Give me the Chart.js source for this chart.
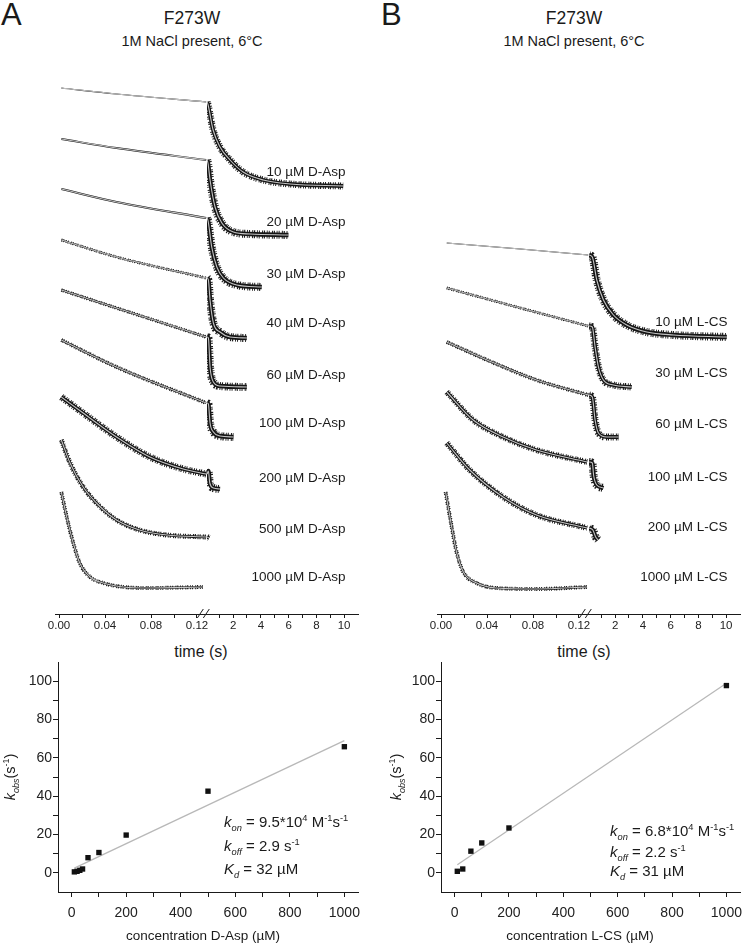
<!DOCTYPE html>
<html>
<head>
<meta charset="utf-8">
<script src="https://cdn.jsdelivr.net/npm/chart.js@4.4.1/dist/chart.umd.min.js"></script>
<style>
  html, body { margin: 0; padding: 0; background: #fff; }
  body { width: 745px; height: 947px; position: relative; overflow: hidden;
         font-family: "Liberation Sans", Arial, sans-serif; color: #1a1a1a; }
  .txt { position: absolute; line-height: 1; white-space: nowrap; }
  .ctr { width: 300px; text-align: center; }
  canvas { position: absolute; }
</style>
</head>
<body>
<div class="txt" style="left:1px;top:-1px;font-size:31px">A</div>
<div class="txt" style="left:381px;top:-1px;font-size:31px">B</div>
<div class="txt ctr" style="left:42px;top:10px;font-size:17.5px">F273W</div>
<div class="txt ctr" style="left:424px;top:10px;font-size:17.5px">F273W</div>
<div class="txt ctr" style="left:42px;top:34px;font-size:14.5px">1M NaCl present, 6°C</div>
<div class="txt ctr" style="left:424px;top:34px;font-size:14.5px">1M NaCl present, 6°C</div>
<div class="txt ctr" style="left:51px;top:644px;font-size:16px">time (s)</div>
<div class="txt ctr" style="left:434px;top:644px;font-size:16px">time (s)</div>

<canvas id="aspEarly" width="215" height="600" style="left:0;top:60px"></canvas>
<canvas id="aspLate" width="165" height="600" style="left:207px;top:60px"></canvas>
<canvas id="csEarly" width="215" height="600" style="left:382px;top:60px"></canvas>
<canvas id="csLate" width="156" height="600" style="left:589px;top:60px"></canvas>
<canvas id="aspKobs" width="372" height="307" style="left:0;top:640px"></canvas>
<canvas id="csKobs" width="373" height="307" style="left:372px;top:640px"></canvas>

<script>
// ---- data ----
// stopped-flow traces: [time (s), signal (a.u.)], stacked with offsets as in the figure
const aspConc = [10, 20, 30, 40, 60, 100, 200, 500, 1000];
const aspEarly = [   // 0 - 0.13 s part
  [[0.002, 526], [0.05, 520], [0.128, 512]],
  [[0.002, 475], [0.05, 466], [0.128, 454]],
  [[0.002, 425], [0.05, 412], [0.128, 396]],
  [[0.002, 374], [0.05, 357], [0.128, 336]],
  [[0.002, 324], [0.05, 306], [0.128, 277]],
  [[0.002, 274], [0.05, 247], [0.128, 211]],
  [[0.002, 217], [0.021, 201], [0.05, 177], [0.079, 157], [0.108, 145], [0.128, 140]],
  [[0.002, 174], [0.0096, 151], [0.021, 127], [0.036, 107], [0.05, 94], [0.07, 84], [0.094, 79], [0.128, 77]],
  [[0.002, 122], [0.0067, 97], [0.0124, 71], [0.018, 51], [0.027, 37], [0.0385, 31], [0.056, 27], [0.079, 26], [0.125, 27]]
];
const aspLate = [    // 0.13 - 10 s part
  [[0.13, 512], [0.2, 509], [0.56, 484], [1.06, 467], [1.78, 454], [2.72, 442], [4.16, 434], [6.11, 430], [9.93, 428]],
  [[0.13, 454], [0.2, 450], [0.34, 434], [0.7, 407], [1.19, 391], [2.02, 382], [3.23, 380], [5.99, 379]],
  [[0.13, 396], [0.2, 393], [0.46, 367], [0.83, 347], [1.3, 336], [2.27, 329], [4.07, 327]],
  [[0.13, 336], [0.22, 334], [0.34, 314], [0.58, 291], [1.06, 282], [1.78, 277], [2.99, 276]],
  [[0.13, 277], [0.22, 276], [0.34, 247], [0.58, 232], [1.06, 228], [2.99, 227]],
  [[0.13, 211], [0.22, 210], [0.34, 191], [0.58, 182], [1.06, 178], [2.02, 177]],
  [[0.13, 140], [0.22, 143], [0.32, 131], [0.58, 126], [1.06, 125]],
  [[0.13, 77], [0.27, 76]],
  []
];
const aspLabelLevel = [442, 392, 340, 291, 239, 191, 136, 85, 37];

const csConc = [10, 30, 60, 100, 200, 1000];
const csEarly = [
  [[0.005, 371], [0.069, 365], [0.128, 359]],
  [[0.005, 326], [0.069, 306], [0.128, 288]],
  [[0.005, 272], [0.04, 254], [0.083, 234], [0.128, 219]],
  [[0.005, 222], [0.028, 194], [0.054, 177], [0.083, 164], [0.127, 152]],
  [[0.005, 171], [0.025, 144], [0.054, 117], [0.083, 99], [0.127, 86]],
  [[0.004, 122], [0.0093, 87], [0.0137, 61], [0.0194, 42], [0.031, 31], [0.048, 26], [0.083, 25], [0.127, 27]]
];
const csLate = [
  [[0.13, 359], [0.36, 357], [0.68, 334], [1.16, 314], [1.88, 299], [2.84, 289], [4.28, 282], [6.2, 279], [10.05, 277]],
  [[0.13, 288], [0.36, 287], [0.56, 267], [0.8, 247], [1.16, 234], [1.88, 229], [3.2, 227]],
  [[0.13, 219], [0.36, 217], [0.56, 194], [0.8, 181], [1.4, 177], [2.24, 177]],
  [[0.13, 152], [0.36, 151], [0.46, 138], [0.68, 129], [1.16, 126]],
  [[0.13, 86], [0.4, 84], [0.6, 77], [0.78, 74]],
  []
];
const csLabelLevel = [292, 241, 190, 137, 87, 37];

// k_obs vs concentration
const aspKobsConc = [10, 20, 30, 40, 60, 100, 200, 500, 1000];
const aspKobs = [0.5, 0.8, 1.3, 2.0, 7.9, 10.6, 19.7, 42.6, 65.8];
const aspFitLine = [[10, 2.5], [1000, 69]];
const csKobsConc = [10, 30, 60, 100, 200, 1000];
const csKobs = [0.8, 2.0, 11.3, 15.6, 23.4, 97.7];
const csFitLine = [[10, 4.2], [1000, 98.9]];

const earlyTicks = [0, 0.02, 0.04, 0.06, 0.08, 0.1, 0.12];
const lateTicks = [1, 2, 3, 4, 5, 6, 7, 8, 9, 10];
const concTicks = [0, 100, 200, 300, 400, 500, 600, 700, 800, 900, 1000];
const kobsTicks = [0, 10, 20, 30, 40, 50, 60, 70, 80, 90, 100];

const aspConstants = [
  [['k', 'i'], ['on', 'isub'], [' = 9.5*10', ''], ['4', 'sup'], [' M', ''], ['-1', 'sup'], ['s', ''], ['-1', 'sup']],
  [['k', 'i'], ['off', 'isub'], [' = 2.9 s', ''], ['-1', 'sup']],
  [['K', 'i'], ['d', 'isub'], [' = 32 µM', '']]
];
const csConstants = [
  [['k', 'i'], ['on', 'isub'], [' = 6.8*10', ''], ['4', 'sup'], [' M', ''], ['-1', 'sup'], ['s', ''], ['-1', 'sup']],
  [['k', 'i'], ['off', 'isub'], [' = 2.2 s', ''], ['-1', 'sup']],
  [['K', 'i'], ['d', 'isub'], [' = 31 µM', '']]
];
const kobsTitle = [['k', 'i'], ['obs', 'isub'], ['(s', ''], ['-1', 'sup'], [')', '']];

// ---- drawing ----
const FONT = '"Liberation Sans", Arial, sans-serif';
const INK = '#1a1a1a';
Chart.defaults.font.family = FONT;
Chart.defaults.color = INK;

// noise band widths of the black data traces (early / late parts)
const aspBandEarly = [1.2, 1.8, 2.2, 3, 3.5, 4, 7, 5, 4];
const aspBandLate = [7, 8, 8, 8, 8, 8, 8, 6, 0];
const csBandEarly = [1.2, 3, 4, 6, 6, 4];
const csBandLate = [8, 7, 7, 8, 8, 0];

function richText(ctx, parts, x, y, size) {
  let cx = x;
  for (const [t, st] of parts) {
    const small = st.includes('sub') || st.includes('sup');
    const fs = small ? size * 0.62 : size;
    ctx.font = (st.startsWith('i') ? 'italic ' : '') + fs + 'px ' + FONT;
    const dy = st.includes('sub') ? size * 0.28 : st.includes('sup') ? -size * 0.42 : 0;
    ctx.fillText(t, cx, y + dy);
    cx += ctx.measureText(t).width;
  }
  return cx - x;
}

// each trace: grey fit on top, a solid black core and a hatched black fringe for the noise
function traceSets(tracks, bands) {
  const sets = [];
  tracks.forEach((tr, i) => {
    if (!tr.length) return;
    const pts = tr.map(([x, y]) => ({ x, y }));
    const base = { data: pts, pointRadius: 0, cubicInterpolationMode: 'monotone' };
    sets.push({ ...base, borderColor: '#c4c4c4', borderWidth: 1.1, order: 0 });
    if (bands[i] <= 2.5) {
      sets.push({ ...base, borderColor: '#151515', borderWidth: bands[i], order: 1 });
    } else {
      sets.push({ ...base, borderColor: '#151515', borderWidth: bands[i] * 0.55, order: 1 });
      sets.push({ ...base, borderColor: '#1c1c1c', borderWidth: bands[i],
                  borderDash: [1, 0.8, 1.2, 1.7, 0.9, 1.1, 1, 2.2], order: 2 });
    }
  });
  return sets;
}

function timeAxis(min, max, ticks, label) {
  return {
    type: 'linear', min, max,
    afterBuildTicks: s => { s.ticks = ticks.map(v => ({ value: v })); },
    afterFit: s => { s.height = 46; s.paddingLeft = 0; s.paddingRight = 0; },
    grid: { drawOnChartArea: false, tickLength: 4, color: INK },
    border: { color: INK, width: 1 },
    ticks: { padding: 1, autoSkip: false, maxRotation: 0, font: { size: 11.5 }, color: '#222', callback: label }
  };
}

const breakMarks = {
  id: 'breakMarks',
  afterDraw(chart) {
    const { ctx, chartArea } = chart;
    const x = chart.scales.x.getPixelForValue(0.1255);
    const y = chartArea.bottom;
    ctx.save();
    ctx.strokeStyle = INK;
    ctx.lineWidth = 1;
    ctx.beginPath();
    [-3, 3].forEach(dx => { ctx.moveTo(x + dx - 3, y + 4); ctx.lineTo(x + dx + 3, y - 5); });
    ctx.stroke();
    ctx.restore();
  }
};

function tracePanel(id, early, late, bandEarly, bandLate, conc, levels, drug, lateWidth) {
  const common = { responsive: false, animation: false, events: [],
                   plugins: { legend: { display: false }, tooltip: { enabled: false } } };
  new Chart(document.getElementById(id + 'Early'), {
    type: 'line',
    data: { datasets: traceSets(early, bandEarly) },
    options: { ...common,
      layout: { padding: { left: 55, right: 8, top: 20, bottom: 0 } },
      scales: {
        x: timeAxis(-0.0035, 0.1287, earlyTicks, v => (Math.round(v * 100) % 4 === 0 ? v.toFixed(2) : '')),
        y: { display: false, min: 0, max: 534 }
      } },
    plugins: [breakMarks]
  });
  new Chart(document.getElementById(id + 'Late'), {
    type: 'line',
    data: { datasets: traceSets(late, bandLate) },
    options: { ...common,
      layout: { padding: { left: 0, right: lateWidth - 151, top: 20, bottom: 0 } },
      scales: {
        x: timeAxis(0.12, 11, lateTicks, v => (v % 2 === 0 ? String(v) : '')),
        y: { display: false, min: 0, max: 534 }
      } },
    plugins: [{
      id: 'concLabels',
      afterDatasetsDraw(chart) {
        const { ctx, scales: { x, y } } = chart;
        ctx.save();
        ctx.font = '13.5px ' + FONT;
        ctx.fillStyle = INK;
        ctx.textAlign = 'right';
        ctx.textBaseline = 'middle';
        levels.forEach((lv, i) => ctx.fillText(conc[i] + ' µM ' + drug, x.getPixelForValue(10.1), y.getPixelForValue(lv)));
        ctx.restore();
      }
    }]
  });
}

tracePanel('asp', aspEarly, aspLate, aspBandEarly, aspBandLate, aspConc, aspLabelLevel, 'D-Asp', 165);
tracePanel('cs', csEarly, csLate, csBandEarly, csBandLate, csConc, csLabelLevel, 'L-CS', 156);

function kobsPanel(id, conc, kobs, fit, constants, xTitle, padLeft, padRight, yTitleX, xTitleX, textX, textY) {
  new Chart(document.getElementById(id), {
    type: 'scatter',
    data: { datasets: [
      { data: conc.map((c, i) => ({ x: c, y: kobs[i] })), pointStyle: 'rect', pointRadius: 3.8,
        backgroundColor: '#111', borderColor: '#111', borderWidth: 0, order: 0 },
      { type: 'line', data: fit.map(([x, y]) => ({ x, y })), borderColor: '#b8b8b8', borderWidth: 1.3,
        pointRadius: 0, order: 1 }
    ] },
    options: {
      responsive: false, animation: false, events: [],
      plugins: { legend: { display: false }, tooltip: { enabled: false } },
      layout: { padding: { left: padLeft - 40, right: padRight, top: 22, bottom: 0 } },
      scales: {
        x: {
          type: 'linear', min: -50, max: 1050,
          afterBuildTicks: s => { s.ticks = concTicks.map(v => ({ value: v })); },
          afterFit: s => { s.height = 55; s.paddingLeft = 0; s.paddingRight = 0; },
          grid: { drawOnChartArea: false, tickLength: 5, color: INK },
          border: { color: INK, width: 1 },
          ticks: { padding: 8, autoSkip: false, maxRotation: 0, font: { size: 14 }, color: '#222',
                   callback: v => (v % 200 === 0 ? String(v) : '') }
        },
        y: {
          type: 'linear', min: -10, max: 110,
          afterBuildTicks: s => { s.ticks = kobsTicks.map(v => ({ value: v })); },
          afterFit: s => { s.width = 40; s.paddingTop = 0; s.paddingBottom = 0; },
          grid: { drawOnChartArea: false, tickLength: 5, color: INK },
          border: { color: INK, width: 1 },
          ticks: { padding: 1, autoSkip: false, font: { size: 14 }, color: '#222',
                   callback: v => (v % 20 === 0 ? String(v) : '') }
        }
      }
    },
    plugins: [{
      id: 'kobsText',
      afterDraw(chart) {
        const { ctx, chartArea } = chart;
        ctx.save();
        ctx.fillStyle = INK;
        ctx.textBaseline = 'alphabetic';
        // rotated y title
        ctx.save();
        ctx.translate(yTitleX, (chartArea.top + chartArea.bottom) / 2);
        ctx.rotate(-Math.PI / 2);
        ctx.globalAlpha = 0;
        const w = richText(ctx, kobsTitle, 0, 0, 14.5);
        ctx.globalAlpha = 1;
        richText(ctx, kobsTitle, -w / 2, 0, 14.5);
        ctx.restore();
        // x title
        ctx.font = '13.5px ' + FONT;
        ctx.textAlign = 'center';
        ctx.textBaseline = 'middle';
        ctx.fillText(xTitle, xTitleX, 296);
        // rate constants
        ctx.textAlign = 'left';
        ctx.textBaseline = 'alphabetic';
        constants.forEach((parts, i) => richText(ctx, parts, textX, textY[i], 15));
        ctx.restore();
      }
    }]
  });
}

kobsPanel('aspKobs', aspKobsConc, aspKobs, aspFitLine, aspConstants, 'concentration D-Asp (µM)',
          58, 14, 15, 203, 224, [187, 211, 234]);
kobsPanel('csKobs', csKobsConc, csKobs, csFitLine, csConstants, 'concentration L-CS (µM)',
          69, 5, 29, 208, 238, [196, 217, 236]);
</script>
</body>
</html>
